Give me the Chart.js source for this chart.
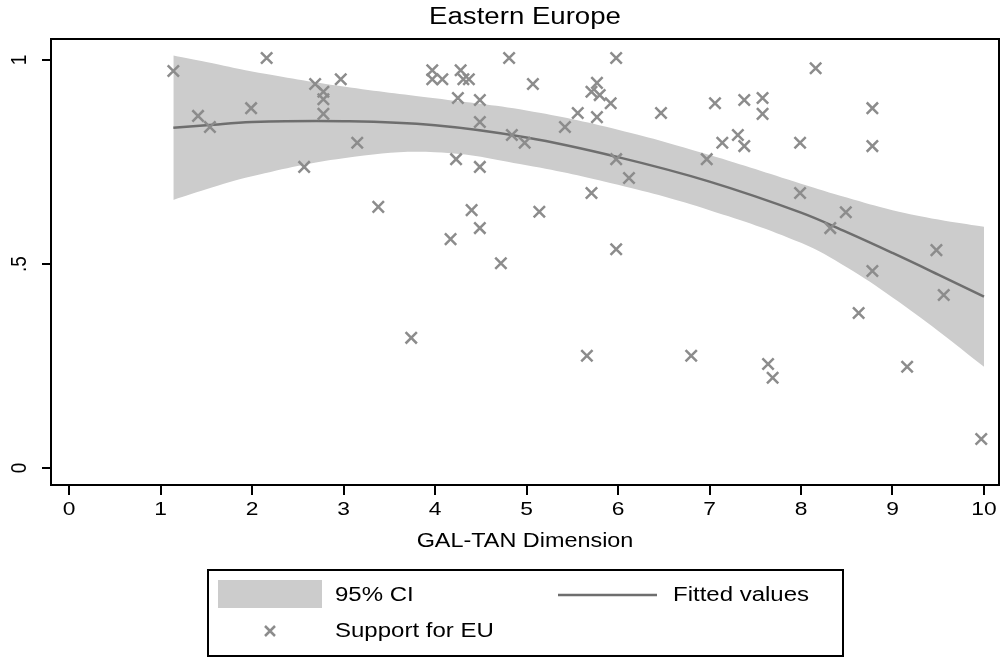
<!DOCTYPE html>
<html>
<head>
<meta charset="utf-8">
<script src="https://cdn.jsdelivr.net/npm/chart.js@4/dist/chart.umd.min.js"></script>
<style>
  body { margin: 0; background: #fff; }
  canvas { display: block; }
</style>
</head>
<body>
<canvas id="myChart" width="1000" height="658"></canvas>
<script>
'use strict';

// scatter: GAL-TAN position vs support for EU
let galTan = [1.14, 1.41, 1.54, 1.99, 2.16, 2.57, 2.69, 2.78, 2.78, 2.78, 2.97, 3.15, 3.38, 3.74,
  3.97, 3.97, 4.08, 4.17, 4.23, 4.25, 4.28, 4.31, 4.37, 4.40, 4.49, 4.49, 4.49, 4.49, 4.72, 4.81,
  4.84, 4.98, 5.07, 5.14, 5.42, 5.56, 5.66, 5.71, 5.71, 5.77, 5.77, 5.80, 5.92, 5.98, 5.98, 5.98,
  6.12, 6.47, 6.80, 6.97, 7.06, 7.14, 7.31, 7.38, 7.38, 7.58, 7.58, 7.64, 7.69, 7.99, 7.99, 8.16,
  8.32, 8.49, 8.63, 8.78, 8.78, 8.78, 9.16, 9.48, 9.56, 9.97];
let supportEU = [0.973, 0.863, 0.836, 0.882, 1.005, 0.738, 0.941, 0.922, 0.904, 0.868, 0.953, 0.797, 0.640, 0.319,
  0.975, 0.953, 0.953, 0.561, 0.757, 0.907, 0.975, 0.953, 0.953, 0.632, 0.902, 0.848, 0.738, 0.588, 0.502, 1.005,
  0.816, 0.797, 0.941, 0.628, 0.836, 0.870, 0.275, 0.922, 0.674, 0.944, 0.860, 0.914, 0.894, 1.005, 0.757, 0.536,
  0.711, 0.870, 0.275, 0.757, 0.894, 0.797, 0.816, 0.902, 0.789, 0.907, 0.868, 0.255, 0.221, 0.797, 0.674, 0.980,
  0.588, 0.627, 0.380, 0.882, 0.789, 0.483, 0.248, 0.534, 0.424, 0.071];

// fitted line and 95% CI band, read at these x positions
let fitX   = [1.14, 1.5, 2, 3, 4, 5, 6, 7, 8, 8.5, 9, 9.5, 10];
let fitY   = [0.834, 0.840, 0.848, 0.850, 0.840, 0.810, 0.762, 0.702, 0.626, 0.578, 0.527, 0.474, 0.420];
let ciHigh = [1.011, 0.995, 0.972, 0.935, 0.906, 0.876, 0.829, 0.767, 0.697, 0.663, 0.632, 0.609, 0.591];
let ciLow  = [0.657, 0.683, 0.715, 0.759, 0.774, 0.742, 0.694, 0.632, 0.552, 0.492, 0.418, 0.336, 0.248];

let xTicks = [0, 1, 2, 3, 4, 5, 6, 7, 8, 9, 10];
let yTicks = [0, 0.5, 1];
let yTickLabels = ['0', '.5', '1'];

let chartTitle = 'Eastern Europe';
let xTitle = 'GAL-TAN Dimension';
let legendNames = ['95% CI', 'Fitted values', 'Support for EU'];

const BAND = '#cccccc';
const LINE = '#6e6e6e';
const MARK = '#8c8c8c';
const SX = 1.2; // text in the reference is a bit wider than it is tall
const FONT = '"Liberation Sans", Arial, sans-serif';

function toPoints(xs, ys) {
  let out = [];
  for (let i = 0; i < xs.length; i++) out.push({ x: xs[i], y: ys[i] });
  return out;
}

function putText(ctx, str, x, y, size, align, rot) {
  ctx.save();
  ctx.translate(x, y);
  ctx.scale(SX, 1);
  if (rot) ctx.rotate(rot);
  ctx.font = size + 'px ' + FONT;
  ctx.textAlign = align;
  ctx.textBaseline = 'middle';
  ctx.fillStyle = '#000';
  ctx.fillText(str, 0, 0);
  ctx.restore();
}

function drawCross(ctx, x, y, r) {
  ctx.save();
  ctx.strokeStyle = MARK;
  ctx.lineWidth = 2.5;
  ctx.beginPath();
  ctx.moveTo(x - r, y - r); ctx.lineTo(x + r, y + r);
  ctx.moveTo(x - r, y + r); ctx.lineTo(x + r, y - r);
  ctx.stroke();
  ctx.restore();
}

// frame, tick labels, titles and the boxed legend
const decor = {
  id: 'decor',
  afterDraw(chart) {
    let ctx = chart.ctx;
    let a = chart.chartArea;
    let xs = chart.scales.x;
    let ys = chart.scales.y;

    ctx.save();
    ctx.strokeStyle = '#000';
    ctx.lineWidth = 2;
    ctx.strokeRect(a.left, a.top, a.right - a.left, a.bottom - a.top);
    ctx.restore();

    xTicks.forEach(v => putText(ctx, String(v), xs.getPixelForValue(v), a.bottom + 25, 19, 'center'));
    yTicks.forEach((v, i) => putText(ctx, yTickLabels[i], 20, ys.getPixelForValue(v), 19, 'center', -Math.PI / 2));

    let mid = (a.left + a.right) / 2;
    putText(ctx, chartTitle, mid, 18, 23, 'center');
    putText(ctx, xTitle, mid, 542, 19.5, 'center');

    // legend box
    ctx.save();
    ctx.strokeStyle = '#000';
    ctx.lineWidth = 2;
    ctx.strokeRect(208, 570, 635, 86);
    ctx.fillStyle = BAND;
    ctx.fillRect(218, 580, 104, 28);
    ctx.strokeStyle = LINE;
    ctx.lineWidth = 2.5;
    ctx.beginPath();
    ctx.moveTo(558, 595); ctx.lineTo(657, 595);
    ctx.stroke();
    ctx.restore();
    drawCross(ctx, 270, 631, 5);

    putText(ctx, legendNames[0], 335, 595, 20, 'left');
    putText(ctx, legendNames[1], 673, 595, 20, 'left');
    putText(ctx, legendNames[2], 335, 631, 20, 'left');
  }
};

let ctx = document.getElementById('myChart').getContext('2d');
let chart = new Chart(ctx, {
  type: 'scatter',
  data: {
    datasets: [{
      type: 'line',
      label: 'ci high',
      data: toPoints(fitX, ciHigh),
      borderWidth: 0,
      borderColor: 'rgba(0,0,0,0)',
      backgroundColor: BAND,
      pointRadius: 0,
      tension: 0.4,
      fill: '+1',
      order: 3
    }, {
      type: 'line',
      label: 'ci low',
      data: toPoints(fitX, ciLow),
      borderWidth: 0,
      borderColor: 'rgba(0,0,0,0)',
      pointRadius: 0,
      tension: 0.4,
      fill: false,
      order: 2
    }, {
      type: 'line',
      label: 'Fitted values',
      data: toPoints(fitX, fitY),
      borderColor: LINE,
      borderWidth: 2.5,
      pointRadius: 0,
      tension: 0.4,
      fill: false,
      order: 1
    }, {
      label: 'Support for EU',
      data: toPoints(galTan, supportEU),
      pointStyle: 'crossRot',
      pointRadius: 8,
      borderWidth: 2.5,
      borderColor: MARK,
      backgroundColor: MARK,
      order: 0
    }]
  },
  options: {
    responsive: false,
    animation: false,
    devicePixelRatio: 1,
    layout: { autoPadding: false, padding: { top: 39, right: 1, left: 0, bottom: 0 } },
    plugins: {
      legend: { display: false },
      title: { display: false },
      tooltip: { enabled: false }
    },
    scales: {
      x: {
        type: 'linear',
        min: -0.197,
        max: 10.164,
        ticks: { display: false, stepSize: 1, includeBounds: false },
        grid: { drawOnChartArea: false, drawTicks: true, tickLength: 10, color: '#000', lineWidth: 2 },
        border: { display: false },
        afterFit: s => { s.height = 173; }
      },
      y: {
        type: 'linear',
        min: -0.0417,
        max: 1.0515,
        ticks: { display: false, stepSize: 0.5, includeBounds: false },
        grid: { drawOnChartArea: false, drawTicks: true, tickLength: 9, color: '#000', lineWidth: 2 },
        border: { display: false },
        afterFit: s => { s.width = 51; }
      }
    }
  },
  plugins: [decor]
});
</script>
</body>
</html>
